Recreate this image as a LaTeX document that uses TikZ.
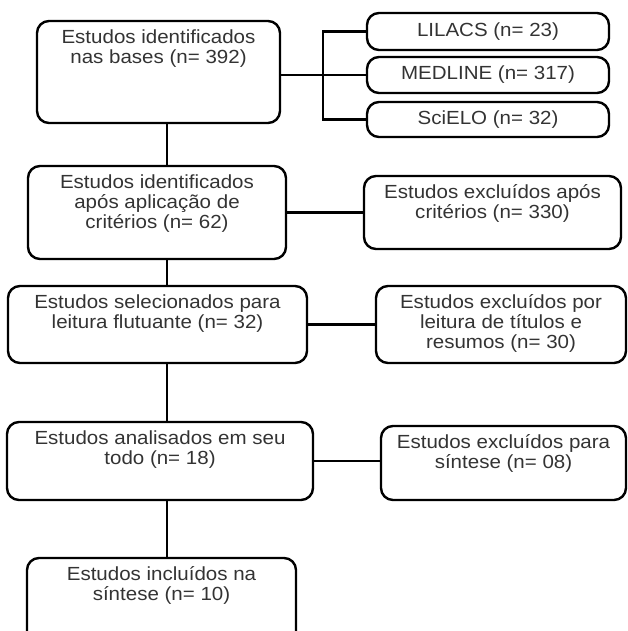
\documentclass[tikz,border=0pt]{standalone}
\usepackage{fontspec}
\setmainfont{Liberation Sans}[FakeStretch=1.08]
\usepackage{tikz}
\usetikzlibrary{calc}
\usetikzlibrary{positioning}
\definecolor{inkgray}{RGB}{51, 51, 51}

\begin{document}
\begin{tikzpicture}[x=1pt, y=-1pt,
            box/.style={draw=black, line width=2.4pt, rounded corners=12pt, inner sep=0pt, text=inkgray,
                        font=\fontsize{19}{19.7}\selectfont},
            boxtext/.style={color=inkgray, align=center, anchor=north, inner sep=0pt,
                        font=\fontsize{19}{19.7}\selectfont},
            link/.style={draw=black, line width=2.4pt}]
            % Frame to ensure alignment:
            \useasboundingbox                                          (  0,   0) rectangle (628, 631);
            \clip                                                      (  0,   0) rectangle (628, 631);
            \coordinate (trunk)                                     at (167,   0);
            \coordinate (branch)                                    at (323,   0);
            % Main column:
            \node[box, minimum width=243pt, minimum height=102pt] (bases) at (158.5,  72.0) {};
            \node[box, minimum width=258pt, minimum height= 93pt] (crit)  at (157.0, 212.5) {};
            \node[box, minimum width=299pt, minimum height= 77pt] (flut)  at (157.5, 324.5) {};
            \node[box, minimum width=306pt, minimum height= 78pt] (todo)  at (160.0, 461.0) {};
            \node[box, minimum width=269pt, minimum height= 92pt] (sint)  at (161.5, 604.0) {};
            \node[boxtext] at ($(bases.north)+(0,10)$) {Estudos identificados\\nas bases (n= 392)};
            \node[boxtext] at ($(crit.north)+(0,10)$)  {Estudos identificados\\após aplicação de\\critérios (n= 62)};
            \node[boxtext] at ($(flut.north)+(0,10)$)  {Estudos selecionados para\\leitura flutuante (n= 32)};
            \node[boxtext] at ($(todo.north)+(0,10)$)  {Estudos analisados em seu\\todo (n= 18)};
            \node[boxtext] at ($(sint.north)+(0,10)$)  {Estudos incluídos na\\síntese (n= 10)};
            % Databases:
            \node[box, minimum width=242pt, minimum height=37pt] (lilacs)  at (488.0,  31.5) {LILACS (n= 23)};
            \node[box, minimum width=242pt, minimum height=36pt] (medline) at (488.0,  75.0) {MEDLINE (n= 317)};
            \node[box, minimum width=242pt, minimum height=35pt] (scielo)  at (488.0, 119.5) {SciELO (n= 32)};
            % Exclusions:
            \node[box, minimum width=257pt, minimum height=73pt] (exclcrit) at (492.5, 212.5) {};
            \node[box, minimum width=250pt, minimum height=77pt] (excltit)  at (501.0, 324.5) {};
            \node[box, minimum width=245pt, minimum height=74pt] (exclsint) at (503.5, 463.0) {};
            \node[boxtext] at ($(exclcrit.north)+(0,10)$) {Estudos excluídos após\\critérios (n= 330)};
            \node[boxtext] at ($(excltit.north)+(0,10)$)  {Estudos excluídos por\\leitura de títulos e\\resumos (n= 30)};
            \node[boxtext] at ($(exclsint.north)+(0,10)$) {Estudos excluídos para\\síntese (n= 08)};
            % Connectors:
            \draw[link] (bases.south -| trunk) -- (crit.north -| trunk);
            \draw[link] (crit.south -| trunk)  -- (flut.north -| trunk);
            \draw[link] (flut.south -| trunk)  -- (todo.north -| trunk);
            \draw[link] (todo.south -| trunk)  -- (sint.north -| trunk);
            \draw[link] (bases.east |- medline.west) -- (medline.west);
            \draw[link] (lilacs.west) -- (lilacs.west -| branch) -- (scielo.west -| branch) -- (scielo.west);
            \draw[link] (crit.east) -- (exclcrit.west);
            \draw[link] (flut.east) -- (excltit.west);
            \draw[link] (todo.east) -- (todo.east -| exclsint.west);
        \end{tikzpicture}
\end{document}
